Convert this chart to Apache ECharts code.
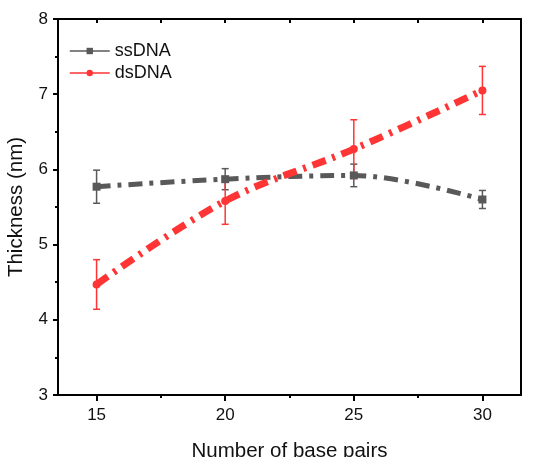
<!DOCTYPE html>
<html>
<head>
<meta charset="utf-8">
<script src="https://cdn.jsdelivr.net/npm/echarts@6/dist/echarts.min.js"></script>
<style>
  html, body { margin: 0; padding: 0; background: #fff; }
  #chart { width: 548px; height: 457px; }
</style>
</head>
<body>
<div id="chart"></div>
<script>
// data
const basePairs = [15, 20, 25, 30];
const ssValues = [5.77, 5.87, 5.92, 5.60];
const ssErrors = [0.22, 0.14, 0.15, 0.12];
const dsValues = [4.47, 5.58, 6.27, 7.05];
const dsErrors = [0.33, 0.31, 0.39, 0.32];
const xMajorTicks = [15, 20, 25, 30];
const xMinorTicks = [17.5, 22.5, 27.5];
const xTopTicks = [15, 17.5, 20, 22.5, 25, 27.5, 30];

const GRAY = '#595959';
const RED = '#ff3535';
const FONT = 'Liberation Sans, Arial, sans-serif';

const pairs = (vals) => basePairs.map((x, i) => [x, vals[i]]);
const bars = (vals, errs) => basePairs.map((x, i) => [x, vals[i] - errs[i], vals[i] + errs[i]]);

// error bar: vertical line with small caps
const errorBar = (color) => (params, api) => {
    const x = api.value(0);
    const top = api.coord([x, api.value(2)]);
    const bot = api.coord([x, api.value(1)]);
    const cap = 3.5;
    const style = { stroke: color, lineWidth: 1.5 };
    return {
        type: 'group',
        children: [
            { type: 'line', shape: { x1: top[0], y1: top[1], x2: bot[0], y2: bot[1] }, style },
            { type: 'line', shape: { x1: top[0] - cap, y1: top[1], x2: top[0] + cap, y2: top[1] }, style },
            { type: 'line', shape: { x1: bot[0] - cap, y1: bot[1], x2: bot[0] + cap, y2: bot[1] }, style }
        ]
    };
};

const chart = echarts.init(document.getElementById('chart'));
const option = {
    backgroundColor: '#fff',
    animation: false,
    textStyle: { fontFamily: FONT },
    grid: { left: 58, right: 27, top: 19, bottom: 62, outerBoundsMode: 'none' },
    legend: {
        orient: 'vertical',
        left: 64,
        top: 37,
        itemWidth: 40,
        itemHeight: 8,
        itemGap: 4,
        data: ['ssDNA', 'dsDNA'],
        lineStyle: { width: 1.5, type: 'solid' },
        textStyle: { fontSize: 18, color: '#111', fontFamily: FONT }
    },
    xAxis: [
        {
            type: 'value',
            min: 13.5,
            max: 31.5,
            name: 'Number of base pairs',
            nameLocation: 'middle',
            nameGap: 46,
            nameTextStyle: { fontSize: 20.5, color: '#111', fontFamily: FONT },
            axisLine: { show: true, onZero: false, lineStyle: { color: '#000', width: 2 } },
            axisTick: { show: true, customValues: xMajorTicks, length: 6, lineStyle: { color: '#000', width: 2 } },
            axisLabel: { customValues: xMajorTicks, fontSize: 17, color: '#111', margin: 12 },
            splitLine: { show: false }
        },
        {
            type: 'value',
            min: 13.5,
            max: 31.5,
            position: 'bottom',
            axisLine: { show: false },
            axisTick: { show: true, customValues: xMinorTicks, length: 3, lineStyle: { color: '#000', width: 2 } },
            axisLabel: { show: false },
            splitLine: { show: false }
        },
        {
            type: 'value',
            min: 13.5,
            max: 31.5,
            position: 'top',
            axisLine: { show: true, onZero: false, lineStyle: { color: '#000', width: 2 } },
            axisTick: { show: true, inside: true, customValues: xTopTicks, length: 4, lineStyle: { color: '#000', width: 2 } },
            axisLabel: { show: false },
            splitLine: { show: false }
        }
    ],
    yAxis: [
        {
            type: 'value',
            min: 3,
            max: 8,
            interval: 1,
            name: 'Thickness (nm)',
            nameLocation: 'middle',
            nameGap: 31,
            nameTextStyle: { fontSize: 20.5, color: '#111', fontFamily: FONT },
            axisLine: { show: true, onZero: false, lineStyle: { color: '#000', width: 2 } },
            axisTick: { show: true, length: 5, lineStyle: { color: '#000', width: 2 } },
            minorTick: { show: true, splitNumber: 2, length: 3, lineStyle: { color: '#000', width: 2 } },
            axisLabel: { fontSize: 17, color: '#111', margin: 10 },
            splitLine: { show: false }
        },
        {
            type: 'value',
            min: 3,
            max: 8,
            position: 'right',
            axisLine: { show: true, onZero: false, lineStyle: { color: '#000', width: 2 } },
            axisTick: { show: false },
            axisLabel: { show: false },
            splitLine: { show: false }
        }
    ],
    series: [
        {
            name: 'ssDNA err',
            type: 'custom',
            renderItem: errorBar(GRAY),
            data: bars(ssValues, ssErrors),
            encode: { x: 0, y: [1, 2] },
            z: 2
        },
        {
            name: 'dsDNA err',
            type: 'custom',
            renderItem: errorBar(RED),
            data: bars(dsValues, dsErrors),
            encode: { x: 0, y: [1, 2] },
            z: 2
        },
        {
            name: 'ssDNA',
            type: 'line',
            data: pairs(ssValues),
            smooth: 0.35,
            symbol: 'rect',
            symbolSize: 8,
            color: GRAY,
            itemStyle: { color: GRAY },
            lineStyle: { color: GRAY, width: 5, type: [14, 7, 4, 7], cap: 'butt' },
            z: 3
        },
        {
            name: 'dsDNA',
            type: 'line',
            data: pairs(dsValues),
            smooth: 0.35,
            symbol: 'circle',
            symbolSize: 8,
            color: RED,
            itemStyle: { color: RED },
            lineStyle: { color: RED, width: 7, type: [14, 7, 3, 7], cap: 'butt' },
            z: 4
        }
    ]
};
chart.setOption(option);
</script>
</body>
</html>
